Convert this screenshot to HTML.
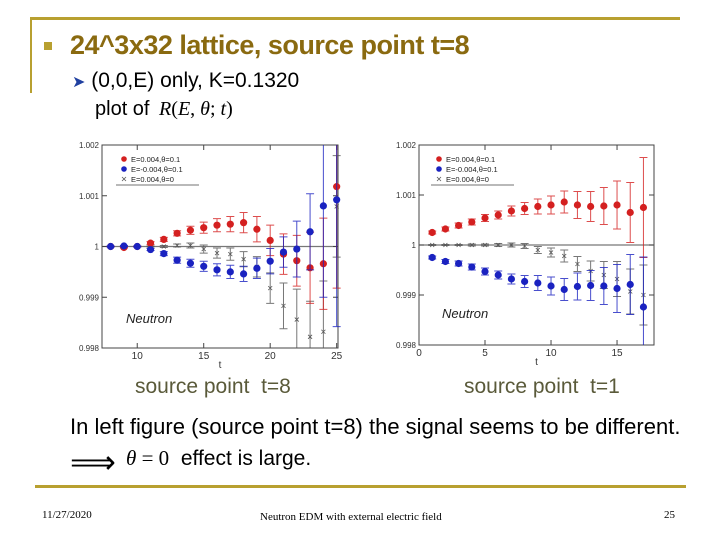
<!DOCTYPE html>
<html><head><meta charset="utf-8"><style>
body{margin:0;background:#fff;}
#slide{position:relative;width:720px;height:540px;overflow:hidden;background:#fff;font-family:"Liberation Sans",sans-serif;}
.t{position:absolute;white-space:nowrap;}
</style></head><body>
<div id="slide">
<div class="t" style="left:30px;top:17px;width:650px;height:3px;background:#b8a030"></div>
<div class="t" style="left:30px;top:17px;width:2px;height:76px;background:#b8a030"></div>
<div class="t" style="left:44px;top:42px;width:8px;height:8px;background:#b8a030"></div>
<div class="t" style="left:70px;top:30px;font-size:27px;font-weight:bold;color:#8a6a10;letter-spacing:-0.5px">24^3x32 lattice, source point t=8</div>
<div class="t" style="left:72px;top:69px;font-size:21px;color:#000"><span style="color:#2040a0;font-size:16px">&#10148;</span> (0,0,E) only, K=0.1320</div>
<div class="t" style="left:95px;top:98px;font-size:20px;color:#000">plot of <span style="font-family:'Liberation Serif',serif;font-style:italic;margin-left:4px">R</span><span style="font-family:'Liberation Serif',serif">(<i>E</i>, <i>θ</i>; <i>t</i>)</span></div>
<svg id="chart" width="720" height="540" style="position:absolute;left:0;top:0"></svg>
<div class="t" style="left:135px;top:375px;font-size:21px;color:#5a5a3a">source point&nbsp; t=8</div>
<div class="t" style="left:464px;top:375px;font-size:21px;color:#5a5a3a">source point&nbsp; t=1</div>
<div class="t" style="left:70px;top:414px;font-size:22px;color:#000">In left figure (source point t=8) the signal seems to be different.</div>
<div class="t" style="left:70px;top:443px;font-size:32px;color:#000;font-family:'DejaVu Sans',sans-serif">⟹</div>
<div class="t" style="left:126px;top:446px;font-size:21px;color:#000"><span style="font-family:'Liberation Serif',serif"><i>θ</i> = 0</span>&nbsp; effect is large.</div>
<div class="t" style="left:35px;top:485px;width:651px;height:3px;background:#b8a030"></div>
<div class="t" style="left:42px;top:509px;font-size:11px;font-family:'Liberation Serif',serif">11/27/2020</div>
<div class="t" style="left:260px;top:511px;font-size:11px;font-family:'Liberation Serif',serif">Neutron EDM with external electric field</div>
<div class="t" style="left:664px;top:509px;font-size:11px;font-family:'Liberation Serif',serif">25</div>
</div>
<script>
// Left chart (source t=8): deviations from 1 in units of 1e-3
const leftT = [8,9,10,11,12,13,14,15,16,17,18,19,20,21,22,23,24,25];
const leftRed = [0,-0.02,0,0.066,0.14,0.26,0.32,0.37,0.42,0.44,0.47,0.34,0.12,-0.15,-0.28,-0.42,-0.34,1.18];
const leftRedErr = [0.01,0.01,0.01,0.03,0.04,0.05,0.08,0.11,0.13,0.15,0.2,0.25,0.3,0.4,0.5,0.7,0.9,2];
const leftBlue = [0,0.01,0,-0.06,-0.14,-0.27,-0.33,-0.39,-0.46,-0.5,-0.54,-0.43,-0.29,-0.11,-0.05,0.29,0.8,0.92];
const leftBlueErr = [0.01,0.01,0.01,0.02,0.04,0.06,0.08,0.1,0.12,0.13,0.15,0.2,0.25,0.3,0.55,0.75,1.8,2.5];
const leftGray = [0,0,0,0,0,0.02,0.02,-0.05,-0.13,-0.15,-0.25,-0.4,-0.82,-1.17,-1.44,-1.78,-1.68,0.79];
const leftGrayErr = [0.005,0.01,0.01,0.01,0.02,0.03,0.05,0.08,0.1,0.12,0.15,0.2,0.3,0.45,0.6,0.7,1.0,1.0];
const leftXTicks = [10,15,20,25];
// Right chart (source t=1)
const rightT = [1,2,3,4,5,6,7,8,9,10,11,12,13,14,15,16,17];
const rightRed = [0.25,0.32,0.39,0.46,0.54,0.6,0.68,0.73,0.77,0.8,0.86,0.8,0.77,0.78,0.8,0.65,0.75];
const rightRedErr = [0.03,0.04,0.05,0.06,0.07,0.08,0.1,0.12,0.15,0.18,0.22,0.27,0.3,0.37,0.48,0.6,1.0];
const rightBlue = [-0.25,-0.33,-0.37,-0.44,-0.53,-0.6,-0.68,-0.73,-0.76,-0.82,-0.89,-0.83,-0.81,-0.82,-0.87,-0.79,-1.24];
const rightBlueErr = [0.03,0.04,0.05,0.06,0.07,0.08,0.1,0.12,0.15,0.18,0.22,0.27,0.3,0.37,0.48,0.6,1.0];
const rightGray = [0,0,0,0,0,0,0,-0.02,-0.1,-0.15,-0.22,-0.38,-0.52,-0.6,-0.68,-0.93,-1.0];
const rightGrayErr = [0.01,0.01,0.01,0.02,0.02,0.03,0.04,0.05,0.07,0.09,0.12,0.15,0.2,0.27,0.35,0.45,0.6];
const rightXTicks = [0,5,10,15];
const yTicks = ["1.002","1.001","1","0.999","0.998"];
const yTickVals = [2,1,0,-1,-2];

const NS="http://www.w3.org/2000/svg";
const svg=document.getElementById('chart');
function mk(tag,attrs,parent){const e=document.createElementNS(NS,tag);for(const k in attrs)e.setAttribute(k,attrs[k]);(parent||svg).appendChild(e);return e;}

function drawChart(cfg){
  const g=mk('g',{});
  
  
  const sx=t=>cfg.x0+(t-cfg.t0)*(cfg.x1-cfg.x0)/(cfg.t1-cfg.t0);
  const sy=v=>cfg.y1+(2-v)*(cfg.y0-cfg.y1)/4;
  const cl=mk('clipPath',{id:cfg.name+'-clip'},g);
  mk('rect',{x:cfg.x0,y:cfg.y1,width:cfg.x1-cfg.x0+4,height:cfg.y0-cfg.y1},cl);
  const frame=mk('rect',{x:cfg.x0,y:cfg.y1,width:cfg.x1-cfg.x0,height:cfg.y0-cfg.y1,fill:'#fff',stroke:'#444','stroke-width':1},g);
  
  
  const zl=mk('line',{x1:cfg.x0,x2:cfg.x1,y1:sy(0),y2:sy(0),stroke:'#777','stroke-width':1.2},g);
  
  
  yTickVals.forEach((v,i)=>{
    mk('line',{x1:cfg.x0,x2:cfg.x0+5,y1:sy(v),y2:sy(v),stroke:'#444'},g);
    mk('line',{x1:cfg.x1,x2:cfg.x1-5,y1:sy(v),y2:sy(v),stroke:'#444'},g);
    const tx=mk('text',{x:cfg.x0-3,y:sy(v)+3,'text-anchor':'end','font-size':8,fill:'#333','font-family':'Liberation Sans, sans-serif'},g);
    tx.textContent=yTicks[i];
    
    
  });
  cfg.xticks.forEach(t=>{
    mk('line',{x1:sx(t),x2:sx(t),y1:cfg.y0,y2:cfg.y0-5,stroke:'#444'},g);
    mk('line',{x1:sx(t),x2:sx(t),y1:cfg.y1,y2:cfg.y1+5,stroke:'#444'},g);
    const tx=mk('text',{x:sx(t),y:cfg.y0+11,'text-anchor':'middle','font-size':10,fill:'#333','font-family':'Liberation Sans, sans-serif'},g);
    tx.textContent=t;
    
    
  });
  const xt=mk('text',{x:(cfg.x0+cfg.x1)/2,y:cfg.y0+20,'text-anchor':'middle','font-size':10,fill:'#333','font-family':'Liberation Sans, sans-serif'},g);
  xt.textContent='t';
  
  
  const pg=mk('g',{'clip-path':'url(#'+cfg.name+'-clip)'},g);
  const series=[[cfg.gray,cfg.grayErr,'#555','x'],[cfg.red,cfg.redErr,'#d42020','o'],[cfg.blue,cfg.blueErr,'#1a22c0','o']];
  series.forEach(([vals,errs,col,sh],si)=>{
    cfg.t.forEach((t,i)=>{
      const x=sx(t),y=sy(vals[i]),ya=sy(vals[i]+errs[i]),yb=sy(vals[i]-errs[i]);
      const eb=mk('path',{d:`M${x},${ya}V${yb}M${x-4},${ya}H${x+4}M${x-4},${yb}H${x+4}`,stroke:col,'stroke-width':1,fill:'none',opacity:0.8},pg);
      
      
      let m;
      if(sh==='o'){m=mk('circle',{cx:x,cy:y,r:3.6,fill:col},pg);}
      else{m=mk('path',{d:`M${x-2},${y-2}L${x+2},${y+2}M${x-2},${y+2}L${x+2},${y-2}`,stroke:col,'stroke-width':0.8},pg);}
      
      
    });
  });
  const lg=mk('g',{},g);
  
  
  const lx=cfg.x0+cfg.legDx, ly=cfg.y1+14;
  cfg.legend.forEach((lab,i)=>{
    const yy=ly+i*10;
    if(i<2) mk('circle',{cx:lx,cy:yy,r:2.8,fill:i===0?'#d42020':'#1a22c0'},lg);
    else mk('path',{d:`M${lx-2},${yy-2}L${lx+2},${yy+2}M${lx-2},${yy+2}L${lx+2},${yy-2}`,stroke:'#555','stroke-width':0.8},lg);
    const tx=mk('text',{x:lx+7,y:yy+3,'font-size':7.5,fill:'#222','font-family':'Liberation Sans, sans-serif'},lg);
    tx.textContent=lab;
  });
  mk('line',{x1:lx-8,x2:lx+75,y1:ly+26,y2:ly+26,stroke:'#444','stroke-width':0.8},lg);
  const nt=mk('text',{x:cfg.neutronX,y:cfg.neutronY,'font-size':13,'font-style':'italic',fill:'#222','font-family':'Liberation Sans, sans-serif'},g);
  nt.textContent='Neutron';
  
  
}
drawChart({name:'left-chart',x0:102,x1:338,y0:348,y1:145,t0:7.35,t1:25.1,t:leftT,red:leftRed,redErr:leftRedErr,blue:leftBlue,blueErr:leftBlueErr,gray:leftGray,grayErr:leftGrayErr,xticks:leftXTicks,legend:['E=0.004,θ=0.1','E=-0.004,θ=0.1','E=0.004,θ=0'],legDx:22,neutronX:126,neutronY:323});
drawChart({name:'right-chart',x0:419,x1:654,y0:345,y1:145,t0:0,t1:17.8,t:rightT,red:rightRed,redErr:rightRedErr,blue:rightBlue,blueErr:rightBlueErr,gray:rightGray,grayErr:rightGrayErr,xticks:rightXTicks,legend:['E=0.004,θ=0.1','E=-0.004,θ=0.1','E=0.004,θ=0'],legDx:20,neutronX:442,neutronY:318});
</script>
</body></html>
